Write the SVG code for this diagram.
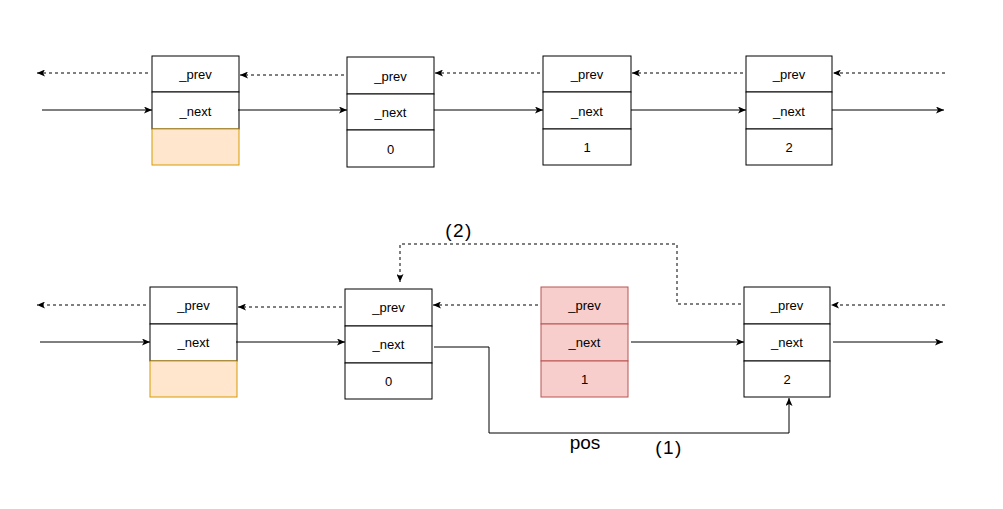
<svg xmlns="http://www.w3.org/2000/svg" width="1003" height="509" viewBox="0 0 1003 509">
<style>
.cell{fill:#fff;stroke:#000;stroke-width:1}
.org{fill:#ffe6cc;stroke:#d79b00;stroke-width:1}
.red{fill:#f8cecc;stroke:#b85450;stroke-width:1}
.t{font-family:"Liberation Sans",Arial,sans-serif;font-size:13px;fill:#000;text-anchor:middle;dominant-baseline:central}
.lbl{font-family:"Liberation Sans",Arial,sans-serif;font-size:19px;fill:#000;text-anchor:middle;dominant-baseline:central}
.par{letter-spacing:1.5px}
.s{fill:none;stroke:#000;stroke-width:1;marker-end:url(#arr)}
.d{fill:none;stroke:#000;stroke-width:1;stroke-dasharray:3 3;marker-end:url(#arr)}
</style>
<defs>
<marker id="arr" viewBox="0 0 8 7" refX="8" refY="3.5" markerWidth="8" markerHeight="7" orient="auto" markerUnits="userSpaceOnUse">
<path d="M0,0 L8,3.5 L0,7 L2,3.5 z" fill="#000"/>
</marker>
</defs>
<rect width="1003" height="509" fill="#fff"/>

<!-- top row -->
<g id="top-head">
<rect class="cell" x="152" y="56" width="87" height="36"/>
<rect class="cell" x="152" y="92" width="87" height="37"/>
<rect class="org" x="152" y="129" width="87" height="36"/>
<text class="t" x="195.5" y="74">_prev</text>
<text class="t" x="195.5" y="111">_next</text>
</g>
<g id="top-n0">
<rect class="cell" x="347" y="57" width="87" height="37"/>
<rect class="cell" x="347" y="94" width="87" height="36"/>
<rect class="cell" x="347" y="130" width="87" height="37"/>
<text class="t" x="390.5" y="76">_prev</text>
<text class="t" x="390.5" y="112">_next</text>
<text class="t" x="390.5" y="149">0</text>
</g>
<g id="top-n1">
<rect class="cell" x="543" y="56" width="88" height="36"/>
<rect class="cell" x="543" y="92" width="88" height="37"/>
<rect class="cell" x="543" y="129" width="88" height="36"/>
<text class="t" x="587" y="74">_prev</text>
<text class="t" x="587" y="111">_next</text>
<text class="t" x="587" y="147">1</text>
</g>
<g id="top-n2">
<rect class="cell" x="746" y="56" width="86" height="36"/>
<rect class="cell" x="746" y="92" width="86" height="37"/>
<rect class="cell" x="746" y="129" width="86" height="36"/>
<text class="t" x="789" y="74">_prev</text>
<text class="t" x="789" y="111">_next</text>
<text class="t" x="789" y="147">2</text>
</g>

<!-- bottom row -->
<g id="bot-head">
<rect class="cell" x="150" y="287" width="87" height="37"/>
<rect class="cell" x="150" y="324" width="87" height="37"/>
<rect class="org" x="150" y="361" width="87" height="36"/>
<text class="t" x="193.5" y="305">_prev</text>
<text class="t" x="193.5" y="342">_next</text>
</g>
<g id="bot-n0">
<rect class="cell" x="345" y="289" width="87" height="37"/>
<rect class="cell" x="345" y="326" width="87" height="37"/>
<rect class="cell" x="345" y="363" width="87" height="36"/>
<text class="t" x="388.5" y="307">_prev</text>
<text class="t" x="388.5" y="344">_next</text>
<text class="t" x="388.5" y="381">0</text>
</g>
<g id="bot-n1">
<rect class="red" x="541" y="287" width="87" height="37"/>
<rect class="red" x="541" y="324" width="87" height="37"/>
<rect class="red" x="541" y="361" width="87" height="36"/>
<text class="t" x="584.5" y="305">_prev</text>
<text class="t" x="584.5" y="342">_next</text>
<text class="t" x="584.5" y="379">1</text>
</g>
<g id="bot-n2">
<rect class="cell" x="744" y="287" width="86" height="37"/>
<rect class="cell" x="744" y="324" width="86" height="37"/>
<rect class="cell" x="744" y="361" width="86" height="36"/>
<text class="t" x="787" y="305">_prev</text>
<text class="t" x="787" y="342">_next</text>
<text class="t" x="787" y="379">2</text>
</g>

<g id="connectors">
<!-- top prev -->
<path class="d" d="M148,73 H37"/>
<path class="d" d="M344,75 H240"/>
<path class="d" d="M540,73 H435"/>
<path class="d" d="M743,73 H632"/>
<path class="d" d="M945,73 H833"/>
<!-- top next -->
<path class="s" d="M42,110 H152"/>
<path class="s" d="M238,110 H347"/>
<path class="s" d="M434,110 H543"/>
<path class="s" d="M631,110 H746"/>
<path class="s" d="M832,110 H944"/>
<!-- bottom prev -->
<path class="d" d="M146,305 H37"/>
<path class="d" d="M342,307 H238"/>
<path class="d" d="M538,305 H433"/>
<path class="d" d="M945,305 H831"/>
<path class="d" d="M741,304 H677 V244 H400 V282"/>
<!-- bottom next -->
<path class="s" d="M40,342 H150"/>
<path class="s" d="M236,342 H345"/>
<path class="s" d="M631,342 H744"/>
<path class="s" d="M833,342 H943"/>
<path class="s" d="M434,347 H489 V433 H789 V398"/>
</g>

<text class="lbl par" x="459" y="230">(2)</text>
<text class="lbl" x="585" y="442">pos</text>
<text class="lbl par" x="669" y="447">(1)</text>
</svg>
